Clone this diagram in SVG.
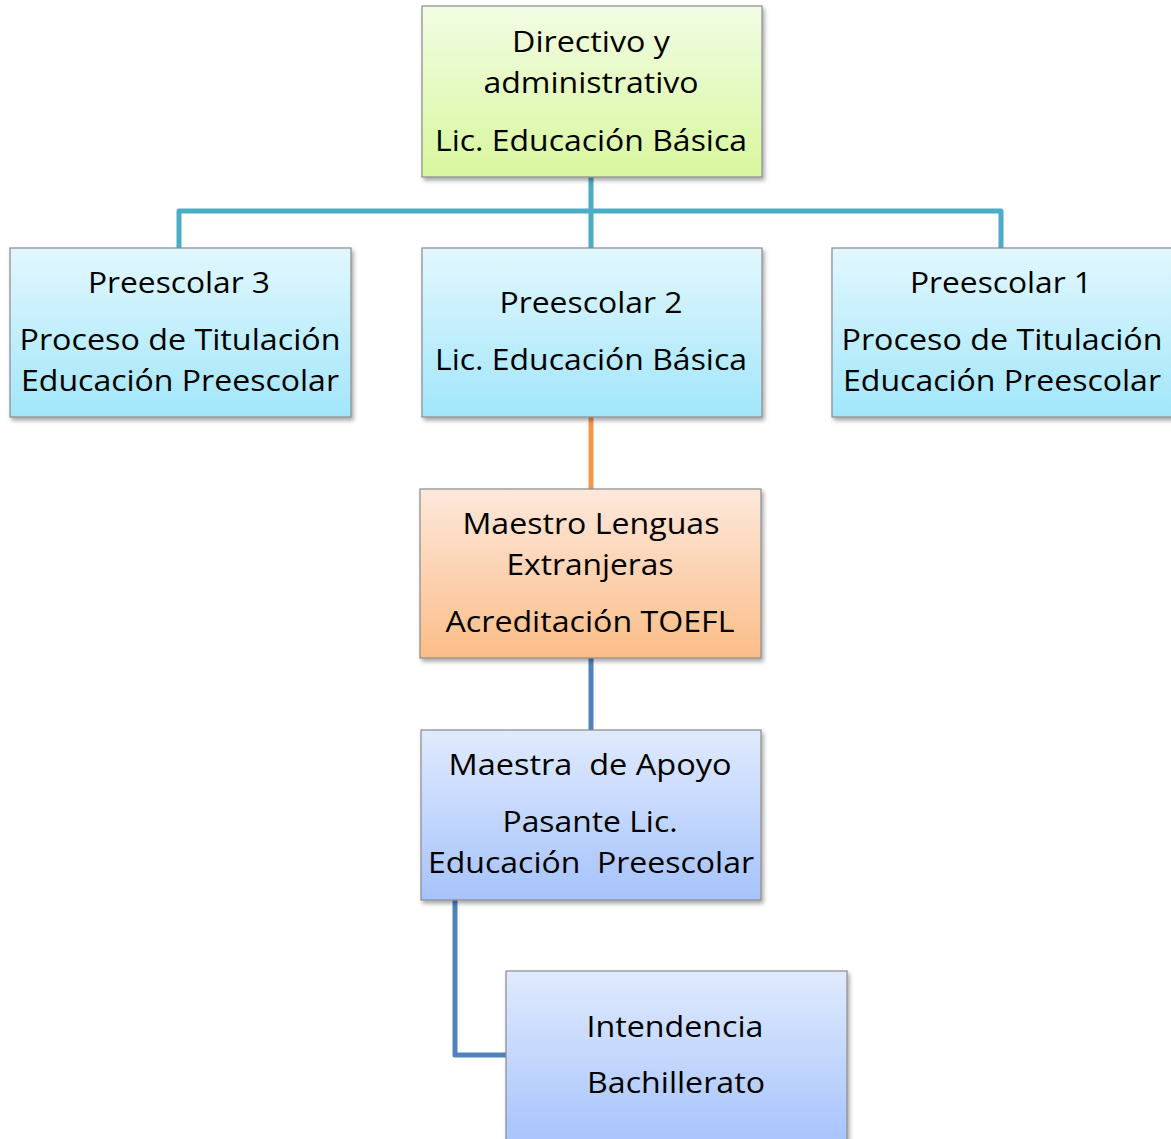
<svg xmlns="http://www.w3.org/2000/svg" width="1171" height="1139" viewBox="0 0 1171 1139">
<defs>
<linearGradient id="gGreen" x1="0" y1="0" x2="0" y2="1"><stop offset="0" stop-color="#f2fce4"/><stop offset="1" stop-color="#d8f79e"/></linearGradient>
<linearGradient id="gCyan" x1="0" y1="0" x2="0" y2="1"><stop offset="0" stop-color="#e2f7fd"/><stop offset="1" stop-color="#a2e6fb"/></linearGradient>
<linearGradient id="gOrange" x1="0" y1="0" x2="0" y2="1"><stop offset="0" stop-color="#fde8dc"/><stop offset="1" stop-color="#fbbd87"/></linearGradient>
<linearGradient id="gBlue" x1="0" y1="0" x2="0" y2="1"><stop offset="0" stop-color="#e0eafd"/><stop offset="1" stop-color="#a6c3fc"/></linearGradient>
<filter id="sh" x="-5%" y="-5%" width="112%" height="115%"><feDropShadow dx="2" dy="3" stdDeviation="2" flood-color="#000" flood-opacity="0.35"/></filter>
</defs>
<style>
.box{stroke:#8a8a8a;stroke-width:1.2;filter:url(#sh)}
.t{font-family:"Open Sans","Noto Sans",sans-serif;font-size:29px;fill:#000;text-anchor:middle;white-space:pre}
.c{fill:none;stroke-width:5;stroke-linejoin:round}
</style>
<rect width="1171" height="1139" fill="#ffffff"/>
<g id="connectors">
<path class="c" stroke="#4bacc6" d="M591,177 V248 M179,248 V211 H1001 V248"/>
<path class="c" stroke="#f79646" d="M591,417 V489"/>
<path class="c" stroke="#4f81bd" d="M591,658 V730"/>
<path class="c" stroke="#4f81bd" d="M455,900 V1055 H506"/>
</g>
<g id="directivo">
<rect class="box" x="422" y="6" width="340" height="171" fill="url(#gGreen)"/>
<text class="t" x="591" y="52" textLength="158" lengthAdjust="spacingAndGlyphs">Directivo y</text>
<text class="t" x="591" y="93" textLength="215" lengthAdjust="spacingAndGlyphs">administrativo</text>
<text class="t" x="591" y="151" textLength="312" lengthAdjust="spacingAndGlyphs">Lic. Educación Básica</text>
</g>
<g id="preescolar3">
<rect class="box" x="10" y="248" width="341" height="169" fill="url(#gCyan)"/>
<text class="t" x="179" y="293" textLength="182" lengthAdjust="spacingAndGlyphs">Preescolar 3</text>
<text class="t" x="180" y="350" textLength="321" lengthAdjust="spacingAndGlyphs">Proceso de Titulación</text>
<text class="t" x="180" y="391" textLength="318" lengthAdjust="spacingAndGlyphs">Educación Preescolar</text>
</g>
<g id="preescolar2">
<rect class="box" x="422" y="248" width="340" height="169" fill="url(#gCyan)"/>
<text class="t" x="591" y="313" textLength="183" lengthAdjust="spacingAndGlyphs">Preescolar 2</text>
<text class="t" x="591" y="370" textLength="312" lengthAdjust="spacingAndGlyphs">Lic. Educación Básica</text>
</g>
<g id="preescolar1">
<rect class="box" x="832" y="248" width="341" height="169" fill="url(#gCyan)"/>
<text class="t" x="1001" y="293" textLength="182" lengthAdjust="spacingAndGlyphs">Preescolar 1</text>
<text class="t" x="1002" y="350" textLength="321" lengthAdjust="spacingAndGlyphs">Proceso de Titulación</text>
<text class="t" x="1002" y="391" textLength="318" lengthAdjust="spacingAndGlyphs">Educación Preescolar</text>
</g>
<g id="maestro-lenguas">
<rect class="box" x="420" y="489" width="341" height="169" fill="url(#gOrange)"/>
<text class="t" x="591" y="534" textLength="257" lengthAdjust="spacingAndGlyphs">Maestro Lenguas</text>
<text class="t" x="590" y="575" textLength="167" lengthAdjust="spacingAndGlyphs">Extranjeras</text>
<text class="t" x="590" y="632" textLength="289" lengthAdjust="spacingAndGlyphs">Acreditación TOEFL</text>
</g>
<g id="maestra-apoyo">
<rect class="box" x="421" y="730" width="340" height="170" fill="url(#gBlue)"/>
<text class="t" x="590" y="775" textLength="283" lengthAdjust="spacingAndGlyphs">Maestra  de Apoyo</text>
<text class="t" x="590" y="832" textLength="175" lengthAdjust="spacingAndGlyphs">Pasante Lic.</text>
<text class="t" x="591" y="873" textLength="326" lengthAdjust="spacingAndGlyphs">Educación  Preescolar</text>
</g>
<g id="intendencia">
<rect class="box" x="506" y="971" width="341" height="175" fill="url(#gBlue)"/>
<text class="t" x="675" y="1037" textLength="177" lengthAdjust="spacingAndGlyphs">Intendencia</text>
<text class="t" x="676" y="1093" textLength="178" lengthAdjust="spacingAndGlyphs">Bachillerato</text>
</g>
</svg>
